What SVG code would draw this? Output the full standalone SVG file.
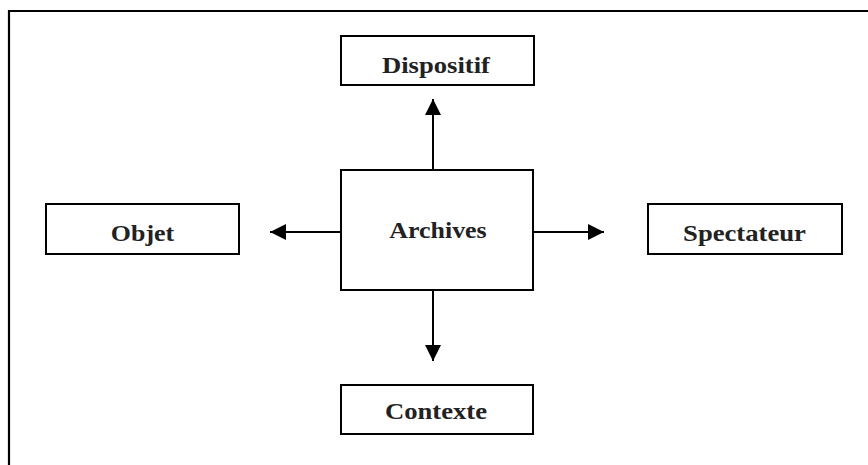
<svg xmlns="http://www.w3.org/2000/svg" width="868" height="465" viewBox="0 0 868 465">
  <style>
    .box { fill: #ffffff; stroke: #000000; stroke-width: 2; }
    .label { font-family: 'Liberation Serif', serif; font-weight: 700; font-size: 24px; fill: #222222; text-anchor: middle; }
    .link { stroke: #000000; stroke-width: 2; fill: none; }
    .frame { stroke: #000000; stroke-width: 2.2; fill: none; }
  </style>
  <defs>
    <marker id="arrow" viewBox="0 0 16 16" refX="16" refY="8" markerWidth="16" markerHeight="16" markerUnits="userSpaceOnUse" orient="auto">
      <path d="M0,0 L16,8 L0,16 Z" fill="#000000"/>
    </marker>
  </defs>

  <rect width="868" height="465" fill="#ffffff"/>

  <!-- page frame: top and left edges -->
  <path class="frame" d="M9,465 V11 H868"/>

  <g id="connectors">
    <line class="link" x1="433" y1="170" x2="433" y2="99" marker-end="url(#arrow)"/>
    <line class="link" x1="433" y1="290" x2="433" y2="361" marker-end="url(#arrow)"/>
    <line class="link" x1="341" y1="232" x2="270" y2="232" marker-end="url(#arrow)"/>
    <line class="link" x1="533" y1="232" x2="604" y2="232" marker-end="url(#arrow)"/>
  </g>

  <g id="dispositif">
    <rect class="box" x="341" y="36" width="193" height="49"/>
    <text class="label" x="436" y="73" transform="translate(436 0) scale(1.11 1) translate(-436 0)">Dispositif</text>
  </g>

  <g id="archives">
    <rect class="box" x="341" y="170" width="192" height="120"/>
    <text class="label" x="438" y="238" transform="translate(438 0) scale(1.08 1) translate(-438 0)">Archives</text>
  </g>

  <g id="objet">
    <rect class="box" x="46" y="204" width="193" height="50"/>
    <text class="label" x="142.5" y="241" transform="translate(142.5 0) scale(1.08 1) translate(-142.5 0)">Objet</text>
  </g>

  <g id="spectateur">
    <rect class="box" x="648" y="204" width="194" height="50"/>
    <text class="label" x="744.5" y="241" transform="translate(744.5 0) scale(1.11 1) translate(-744.5 0)">Spectateur</text>
  </g>

  <g id="contexte">
    <rect class="box" x="341" y="385" width="192" height="49"/>
    <text class="label" x="436" y="419" transform="translate(436 0) scale(1.11 1) translate(-436 0)">Contexte</text>
  </g>
</svg>
